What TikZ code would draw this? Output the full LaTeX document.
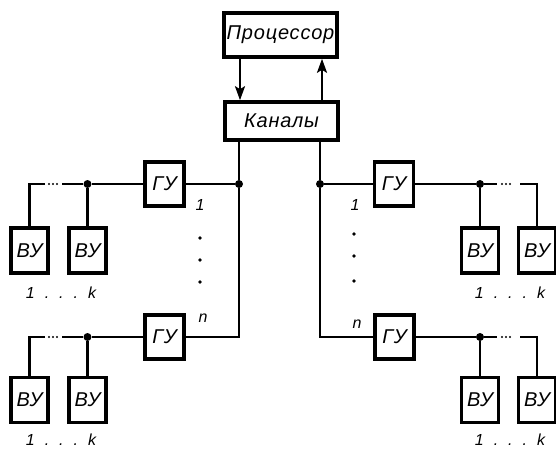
\documentclass[tikz,border=0pt]{standalone}
\usepackage{fontspec}
\setmainfont{Liberation Sans}
\usetikzlibrary{arrows.meta}
\newfontfamily\boxfont[LetterSpace=4]{Liberation Sans}
\tikzset{
  unit/.style={draw, line width=3.6pt, fill=white, inner sep=0pt,
    font=\boxfont\fontsize{20}{20}\selectfont\itshape},
  big/.style={unit, minimum width=113pt},
  gu/.style={unit, minimum width=39pt, minimum height=44pt},
  vy/.style={unit, minimum width=37pt, minimum height=45pt},
  wire/.style={line width=2.3pt},
  gap/.style={line width=2.4pt, line cap=round, dash pattern=on 0pt off 4pt},
  jdot/.style={circle, fill, inner sep=0pt, minimum size=8pt},
  ell/.style={circle, fill, inner sep=0pt, minimum size=3.8pt},
  lbl/.style={font=\fontsize{16}{16}\selectfont\itshape, inner sep=0pt},
  flow/.style={line width=2.3pt, -{Stealth[length=14pt,width=10pt,inset=3pt]}}
}
\newcommand{\oneк}{1\hspace{10pt}.\hspace{10pt}.\hspace{10pt}.\hspace{10pt}k}
\begin{document}
\begin{tikzpicture}[x=1pt,y=-1pt]
\useasboundingbox (0,0) rectangle (556,450);

% processor and channel unit
\node[big, minimum height=44pt] (proc) at (280.5,35) {Процессор};
\node[big, minimum height=38pt] (kan) at (281.5,121) {Каналы};
\coordinate (xdown) at (240,0);
\coordinate (xup) at (322,0);
\draw[flow] (xdown |- proc.south) -- (xdown |- kan.north);
\draw[flow] (xup |- kan.north) -- (xup |- proc.south);

% group controllers
\node[gu] (gul1) at (164.5,184) {ГУ};
\node[gu] (gul2) at (164.5,337) {ГУ};
\node[gu] (gur1) at (394,184) {ГУ};
\node[gu] (gur2) at (394.5,337) {ГУ};

% peripheral devices
\node[vy] (vyl11) at (29.5,250.5) {ВУ};
\node[vy] (vyl12) at (87.5,250.5) {ВУ};
\node[vy] (vyl21) at (29.5,400) {ВУ};
\node[vy] (vyl22) at (87.5,400) {ВУ};
\node[vy] (vyr11) at (480,250.5) {ВУ};
\node[vy] (vyr12) at (537,250.5) {ВУ};
\node[vy] (vyr21) at (480,400) {ВУ};
\node[vy] (vyr22) at (537,400) {ВУ};

% trunks from the channels
\coordinate (tl) at (239,0);
\coordinate (tr) at (320,0);
\node[jdot] (jl) at (239,184) {};
\node[jdot] (jr) at (320,184) {};
\draw[wire] (tl |- kan.south) -- (jl) -- (tl |- gul2.east) -- (gul2.east);
\draw[wire] (jl) -- (gul1.east);
\draw[wire] (tr |- kan.south) -- (jr) -- (tr |- gur2.west) -- (gur2.west);
\draw[wire] (jr) -- (gur1.west);

% left device buses
\foreach \g/\a/\b/\y in {gul1/vyl11/vyl12/184, gul2/vyl21/vyl22/337}{
  \node[jdot] (d\g) at (87.5,\y) {};
  \coordinate (s\g) at (62,\y);
  \coordinate (e\g) at (45,\y);
  \draw[wire] (\g.west) -- (d\g) -- (s\g);
  \draw[wire] (d\g) -- (\b.north);
  \draw[gap, shorten <=4pt, shorten >=5pt] (e\g) -- (s\g);
  \draw[wire] (e\g) -| (\a.north);
}
% right device buses
\foreach \g/\a/\b/\y in {gur1/vyr11/vyr12/184, gur2/vyr21/vyr22/337}{
  \node[jdot] (d\g) at (480,\y) {};
  \coordinate (s\g) at (497,\y);
  \coordinate (e\g) at (520,\y);
  \draw[wire] (\g.east) -- (d\g) -- (s\g);
  \draw[wire] (d\g) -- (\a.north);
  \draw[gap, shorten <=5pt, shorten >=9pt] (s\g) -- (e\g);
  \draw[wire] (e\g) -| (\b.north);
}

% numbering
\node[lbl] (nl1) at (200,205) {1};
\node[lbl] (nl2) at (203,318) {n};
\node[lbl] (nr1) at (355,205) {1};
\node[lbl] (nr2) at (357,324) {n};
\foreach \yy [count=\i] in {238,260,282}{
  \node[ell] (el\i) at (200,\yy) {};
}
\foreach \yy [count=\i] in {234,256,281}{
  \node[ell] (er\i) at (354,\yy) {};
}
\node[lbl] (kl1) at (61,293) {\oneк};
\node[lbl] (kl2) at (61,440) {\oneк};
\node[lbl] (kr1) at (510,293) {\oneк};
\node[lbl] (kr2) at (510,440) {\oneк};
\end{tikzpicture}
\end{document}
